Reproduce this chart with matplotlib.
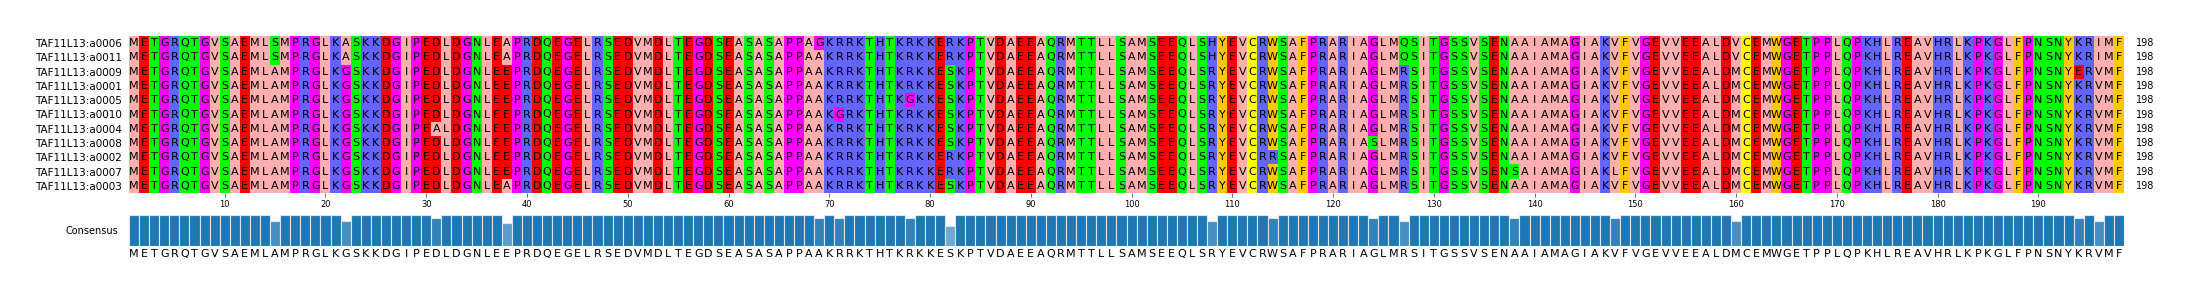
import numpy as np
import matplotlib
matplotlib.use("Agg")
import matplotlib.pyplot as plt
from collections import Counter

# Sequence names (top to bottom)
names = ["TAF11L13:a0006", "TAF11L13:a0011", "TAF11L13:a0009", "TAF11L13:a0001",
         "TAF11L13:a0005", "TAF11L13:a0010", "TAF11L13:a0004", "TAF11L13:a0008",
         "TAF11L13:a0002", "TAF11L13:a0007", "TAF11L13:a0003"]

# Aligned sequences, written in blocks of 10
seqs = [
    ("METGRQTGVS" "AEMLSMPRGL" "KASKKDGIPE" "DLDGNLEAPR" "DQEGELRSED" "VMDLTEGDSE" "ASASAPPAGK" "RRKTHTKRKK"
     "ERKPTVDAEE" "AQRMTTLLSA" "MSEEQLSHYE" "VCRWSAFPRA" "RIAGLMQSIT" "GSSVSENAAI" "AMAGIAKVFV" "GEVVEEALDV"
     "CEMWGETPPL" "QPKHLREAVH" "RLKPKGLFPN" "SNYKRIMF"),
    ("METGRQTGVS" "AEMLSMPRGL" "KASKKDGIPE" "DLDGNLEAPR" "DQEGELRSED" "VMDLTEGDSE" "ASASAPPAAK" "RRKTHTKRKK"
     "ERKPTVDAEE" "AQRMTTLLSA" "MSEEQLSHYE" "VCRWSAFPRA" "RIAGLMQSIT" "GSSVSENAAI" "AMAGIAKVFV" "GEVVEEALDV"
     "CEMWGETPPL" "QPKHLREAVH" "RLKPKGLFPN" "SNYKRIMF"),
    ("METGRQTGVS" "AEMLAMPRGL" "KGSKKDGIPE" "DLDGNLEEPR" "DQEGELRSED" "VMDLTEGDSE" "ASASAPPAAK" "RRKTHTKRKK"
     "ESKPTVDAEE" "AQRMTTLLSA" "MSEEQLSRYE" "VCRWSAFPRA" "RIAGLMRSIT" "GSSVSENAAI" "AMAGIAKVFV" "GEVVEEALDM"
     "CEMWGETPPL" "QPKHLREAVH" "RLKPKGLFPN" "SNYERVMF"),
    ("METGRQTGVS" "AEMLAMPRGL" "KGSKKDGIPE" "DLDGNLEEPR" "DQEGELRSED" "VMDLTEGDSE" "ASASAPPAAK" "RRKTHTKRKK"
     "ESKPTVDAEE" "AQRMTTLLSA" "MSEEQLSRYE" "VCRWSAFPRA" "RIAGLMRSIT" "GSSVSENAAI" "AMAGIAKVFV" "GEVVEEALDM"
     "CEMWGETPPL" "QPKHLREAVH" "RLKPKGLFPN" "SNYKRVMF"),
    ("METGRQTGVS" "AEMLAMPRGL" "KGSKKDGIPE" "DLDGNLEEPR" "DQEGELRSED" "VMDLTEGDSE" "ASASAPPAAK" "RRKTHTKGKK"
     "ESKPTVDAEE" "AQRMTTLLSA" "MSEEQLSRYE" "VCRWSAFPRA" "RIAGLMRSIT" "GSSVSENAAI" "AMAGIAKVFV" "GEVVEEALDM"
     "CEMWGETPPL" "QPKHLREAVH" "RLKPKGLFPN" "SNYKRVMF"),
    ("METGRQTGVS" "AEMLAMPRGL" "KGSKKDGIPE" "DLDGNLEEPR" "DQEGELRSED" "VMDLTEGDSE" "ASASAPPAAK" "GRKTHTKRKK"
     "ESKPTVDAEE" "AQRMTTLLSA" "MSEEQLSRYE" "VCRWSAFPRA" "RIAGLMRSIT" "GSSVSENAAI" "AMAGIAKVFV" "GEVVEEALDM"
     "CEMWGETPPL" "QPKHLREAVH" "RLKPKGLFPN" "SNYKRVMF"),
    ("METGRQTGVS" "AEMLAMPRGL" "KGSKKDGIPE" "ALDGNLEEPR" "DQEGELRSED" "VMDLTEGDSE" "ASASAPPAAK" "RRKTHTKRKK"
     "ESKPTVDAEE" "AQRMTTLLSA" "MSEEQLSRYE" "VCRWSAFPRA" "RIAGLMRSIT" "GSSVSENAAI" "AMAGIAKVFV" "GEVVEEALDM"
     "CEMWGETPPL" "QPKHLREAVH" "RLKPKGLFPN" "SNYKRVMF"),
    ("METGRQTGVS" "AEMLAMPRGL" "KGSKKDGIPE" "DLDGNLEEPR" "DQEGELRSED" "VMDLTEGDSE" "ASASAPPAAK" "RRKTHTKRKK"
     "ESKPTVDAEE" "AQRMTTLLSA" "MSEEQLSRYE" "VCRWSAFPRA" "RIASLMRSIT" "GSSVSENAAI" "AMAGIAKVFV" "GEVVEEALDM"
     "CEMWGETPPL" "QPKHLREAVH" "RLKPKGLFPN" "SNYKRVMF"),
    ("METGRQTGVS" "AEMLAMPRGL" "KGSKKDGIPE" "DLDGNLEEPR" "DQEGELRSED" "VMDLTEGDSE" "ASASAPPAAK" "RRKTHTKRKK"
     "ERKPTVDAEE" "AQRMTTLLSA" "MSEEQLSRYE" "VCRRSAFPRA" "RIAGLMRSIT" "GSSVSENAAI" "AMAGIAKVFV" "GEVVEEALDM"
     "CEMWGETPPL" "QPKHLREAVH" "RLKPKGLFPN" "SNYKRVMF"),
    ("METGRQTGVS" "AEMLAMPRGL" "KGSKKDGIPE" "DLDGNLEEPR" "DQEGELRSED" "VMDLTEGDSE" "ASASAPPAAK" "RRKTHTKRKK"
     "ERKPTVDAEE" "AQRMTTLLSA" "MSEEQLSRYE" "VCRWSAFPRA" "RIAGLMRSIT" "GSSVSENSAI" "AMAGIAKLFV" "GEVVEEALDM"
     "CEMWGETPPL" "QPKHLREAVH" "RLKPKGLFPN" "SNYKRVMF"),
    ("METGRQTGVS" "AEMLAMPRGL" "KGSKKDGIPE" "DLDGNLEAPR" "DQEGELRSED" "VMDLTEGDSE" "ASASAPPAAK" "RRKTHTKRKK"
     "ESKPTVDAEE" "AQRMTTLLSA" "MSEEQLSRYE" "VCRWSAFPRA" "RIAGLMRSIT" "GSSVSENAAI" "AMAGIAKVFV" "GEVVEEALDM"
     "CEMWGETPPL" "QPKHLREAVH" "RLKPKGLFPN" "SNYKRVMF"),
]

tick_positions = list(range(10, 200, 10))

# Zappo colour scheme
zappo = {}
for aa in "ILVAM":
    zappo[aa] = "#FFAFAF"
for aa in "FWY":
    zappo[aa] = "#FFC800"
for aa in "KRH":
    zappo[aa] = "#6464FF"
for aa in "DE":
    zappo[aa] = "#FF0000"
for aa in "STNQ":
    zappo[aa] = "#00FF00"
for aa in "PG":
    zappo[aa] = "#FF00FF"
zappo["C"] = "#FFFF00"

nrow = len(seqs)
ncol = len(seqs[0])

# consensus letter + identity per column
consensus = []
identity = []
for j in range(ncol):
    letter, cnt = Counter(s[j] for s in seqs).most_common(1)[0]
    consensus.append(letter)
    identity.append(cnt / nrow)

W, H = 2190, 294
fig = plt.figure(figsize=(W / 100, H / 100), dpi=100)

# -------- MSA --------
ax = fig.add_axes([129 / W, (H - 193) / H, (2124 - 129) / W, (193 - 36) / H])
rgb = np.array([[matplotlib.colors.to_rgb(zappo.get(c, "#FFFFFF")) for c in s] for s in seqs])
ax.imshow(rgb, aspect="auto", interpolation="nearest",
          extent=(0.5, ncol + 0.5, nrow - 0.5, -0.5))
for i, s in enumerate(seqs):
    for j, c in enumerate(s):
        ax.text(j + 1, i, c, ha="center", va="center", fontsize=8, color="black")
    ax.text(1.006, i, str(len(s.replace("-", ""))), transform=ax.get_yaxis_transform(),
            ha="left", va="center", fontsize=7)
ax.set_xlim(0.5, ncol + 0.5)
ax.set_ylim(nrow - 0.5, -0.5)
ax.set_yticks(range(nrow))
ax.set_yticklabels(names, fontsize=7.5)
ax.tick_params(axis="y", length=0, pad=5)
ax.set_xticks(tick_positions)
ax.set_xticklabels([str(t) for t in tick_positions], fontsize=6)
ax.tick_params(axis="x", length=3, width=0.6, pad=2, color="#555555")
for sp in ax.spines.values():
    sp.set_visible(False)

# -------- Consensus --------
cax = fig.add_axes([129 / W, (H - 246) / H, (2124 - 129) / W, (246 - 215) / H])
x = np.arange(1, ncol + 1)
colors = [matplotlib.colors.to_rgba("#1f77b4", a) for a in identity]
cax.bar(x, np.array(identity) * 100, width=1.0, color=colors, edgecolor="#DDE6EE", linewidth=0.8)
cax.set_xlim(0.5, ncol + 0.5)
cax.set_ylim(0, 100)
cax.set_xticks(x)
cax.set_xticklabels(consensus, fontsize=8)
cax.tick_params(axis="x", length=0, pad=2)
cax.set_yticks([50])
cax.set_yticklabels(["Consensus"], fontsize=7)
cax.tick_params(axis="y", length=0, pad=8)
for sp in cax.spines.values():
    sp.set_visible(False)

fig.savefig("out.png", dpi=100)
